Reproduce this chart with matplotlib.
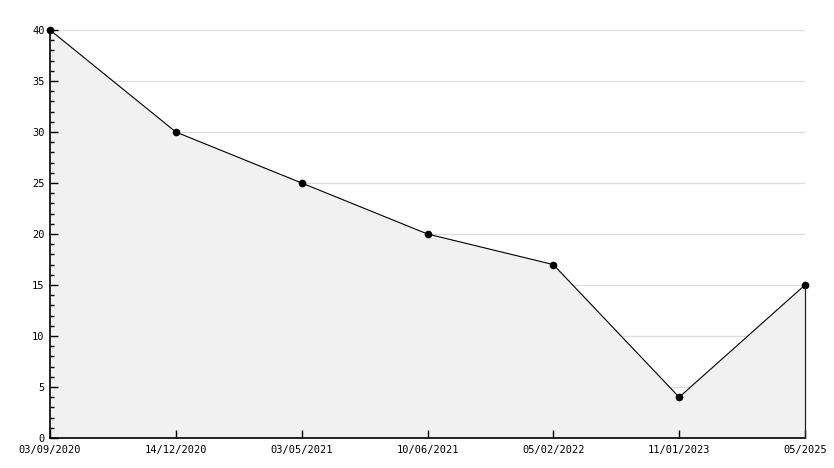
import matplotlib.pyplot as plt
from matplotlib.ticker import MultipleLocator

dates = ["03/09/2020", "14/12/2020", "03/05/2021", "10/06/2021",
         "05/02/2022", "11/01/2023", "05/2025"]
values = [40, 30, 25, 20, 17, 4, 15]
grid_levels = [5, 10, 15, 20, 25, 30, 35, 40]

fig = plt.figure(figsize=(8.34, 4.68), dpi=100)
ax = fig.add_axes([50 / 834, 30 / 468, 755 / 834, 408 / 468])

x = list(range(len(dates)))
# grid under the fill, ticks above it
for lvl in grid_levels:
    ax.axhline(lvl, color="#dddddd", linewidth=0.9, zorder=0.5)
ax.fill_between(x, values, 0, color="#f1f1f1", zorder=1)
ax.plot(x, values, color="black", linewidth=0.8, marker="o", markersize=4.5,
        zorder=3, clip_on=False)
ax.vlines(x[-1], 0, values[-1], color="#222222", linewidth=0.9, zorder=3, clip_on=False)

ax.set_xlim(0, len(dates) - 1)
ax.set_ylim(0, 40)
ax.yaxis.set_major_locator(MultipleLocator(5))
ax.yaxis.set_minor_locator(MultipleLocator(1))
ax.set_xticks(x)
ax.set_xticklabels(dates)

for side in ["top", "right"]:
    ax.spines[side].set_visible(False)
for side in ["left", "bottom"]:
    ax.spines[side].set_linewidth(1.2)

ax.tick_params(axis="y", which="major", direction="in", length=6, width=1, labelsize=7.5, pad=4)
ax.tick_params(axis="y", which="minor", direction="in", length=3, width=1)
ax.tick_params(axis="x", direction="in", length=6, width=1, labelsize=7.5, pad=5)
for lbl in ax.get_xticklabels() + ax.get_yticklabels():
    lbl.set_family("DejaVu Sans Mono")

fig.savefig("out.png", dpi=100)
